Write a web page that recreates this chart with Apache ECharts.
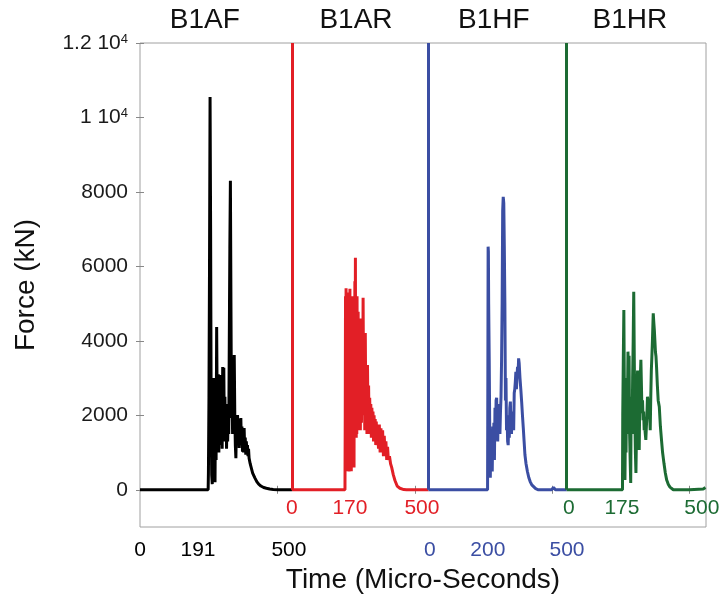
<!DOCTYPE html>
<html><head><meta charset="utf-8">
<script src="https://cdn.jsdelivr.net/npm/echarts@6/dist/echarts.min.js"></script>
<style>html,body{margin:0;padding:0;background:#fff}#c{width:721px;height:596px}</style>
</head><body><div id="c"></div>
<script>
// ---- data (time in plot units along the shared axis, force in kN) ----
const blackTime=[0,248,249,251,253,255,257,259,261,263,265,267,269,271,273,275,277,279,281,283,285,287,289,291,293,295,297,299,301,303,305,307,309,311,313,315,317,319,321,323,325,327,329,331,333,335,337,339,341,343,345,347,349,351,353,355,357,359,361,363,365,367,369,371,373,375,377,379,381,383,385,387,389,391,393,395,397,399,401,405,410,418,425,432,440,450,460,472,485,503,553];
const blackForce=[0,0,450,2500,6000,10550,7000,2000,400,150,1500,700,3000,1000,200,2500,800,4370,2200,1200,3100,1000,2600,1200,3080,1500,2500,1100,3300,1800,3280,1300,2500,1470,2300,1100,2200,1300,2000,1500,4000,6500,8300,5000,1930,2600,1500,3000,1700,3620,2000,1200,850,1700,1200,2010,1500,1900,1120,1700,1300,1930,1200,1700,1020,1500,1000,1660,1100,1400,940,1300,1000,1200,900,1100,850,900,700,590,450,320,220,150,100,60,40,20,10,0,0];

const redTime=[553,746,747,748,749,750,751,752,753,754,755,756,757,758,759,760,761,762,763,764,765,766,767,768,769,770,771,772,773,774,775,776,777,778,779,780,781,782,783,784,785,786,787,788,789,790,791,792,793,794,795,796,797,798,799,800,802,804,806,808,810,812,814,816,818,820,822,824,826,828,830,832,834,836,838,840,842,844,846,848,850,852,854,856,858,860,862,865,868,871,874,877,880,883,886,889,892,895,898,901,904,908,912,916,922,928,936,946,960,970,1050];
const redForce=[0,0,2000,5200,600,5410,800,4900,500,5300,700,4500,1200,5100,600,4200,490,4800,900,5400,600,5000,1000,4600,500,4700,1500,5200,800,4400,1600,4800,700,4300,600,5000,1500,5600,2000,6230,1800,4900,1400,4500,1500,5200,1700,4300,1800,4780,1600,4100,1700,4400,1900,4000,1600,4600,1800,4300,2000,5160,2200,4000,1600,4210,1800,3200,1500,3350,1700,2800,1500,2470,1600,2300,1400,2200,1500,2100,1300,2000,1300,1900,1200,1830,1200,1700,1100,1750,1000,1650,1000,1600,900,1450,900,1300,800,1150,800,900,700,600,400,250,100,40,5,0,0];

const blueTime=[1050,1265,1266,1267,1268,1269,1271,1273,1275,1277,1278,1280,1282,1284,1286,1288,1290,1292,1294,1296,1298,1300,1302,1304,1306,1308,1310,1312,1314,1316,1318,1320,1322,1324,1326,1328,1330,1332,1334,1336,1338,1340,1342,1344,1346,1348,1350,1352,1354,1356,1358,1360,1362,1364,1366,1368,1370,1372,1374,1376,1378,1380,1383,1386,1389,1392,1395,1398,1401,1405,1410,1415,1420,1426,1432,1440,1450,1498,1505,1512,1553];
const blueForce=[0,0,3000,6530,6400,5000,3500,1500,320,1500,700,1300,490,1700,900,1800,800,2200,1400,2400,2470,1700,1300,2200,1600,2300,1500,2100,2500,3500,5000,7500,7870,7700,6500,5000,2400,3000,1600,2000,1300,1200,1800,1400,2200,2370,1700,1500,1900,1740,2100,1600,2600,2700,2900,3170,2700,3000,3300,3100,3530,3400,3000,2700,2370,2000,1660,1300,940,700,490,330,220,130,80,30,0,0,60,0,0];

const greenTime=[1553,1756,1757,1759,1761,1763,1765,1767,1769,1771,1773,1776,1778,1780,1782,1784,1786,1787,1789,1791,1793,1795,1797,1799,1801,1803,1805,1807,1809,1811,1813,1815,1817,1819,1821,1823,1825,1827,1829,1831,1833,1835,1837,1839,1841,1843,1845,1847,1849,1851,1853,1855,1857,1859,1861,1863,1865,1867,1868,1870,1872,1874,1876,1878,1880,1883,1886,1890,1894,1898,1902,1907,1912,1917,1923,1929,1935,1941,2000,2050,2058];
const greenForce=[0,0,2000,3500,4830,2500,260,2000,1000,3000,1500,3710,2500,3600,1500,800,180,1500,2500,1500,3000,4000,5320,3500,2000,1000,450,1500,2800,3200,2500,1800,1070,2500,3000,3490,2800,2060,2400,1870,2100,1600,1700,1500,1340,1700,2000,2500,2450,2550,2500,2000,1600,2500,3200,3580,4000,4500,4740,4500,4290,4000,3700,3580,3300,2800,2400,2230,1700,1340,1000,710,450,260,140,70,30,0,0,20,60];

// ---- tick labels ----
const yTickValues=[0,2000,4000,6000,8000,10000,12000];
const yTickLabels=['0','2000','4000','6000','8000','1 10{sup|4}','1.2 10{sup|4}'];
const frameTickValues=[500,1000,1500,2000];
const panelTitles=['B1AF','B1AR','B1HF','B1HR'];
const panelTitlePos=[236,786,1288,1783];
const outerTickText=['0','191','500','0','200','500'];
const outerTickPos=[0,211,542,1055,1266,1554];
const outerTickPanel=['k','k','k','b','b','b'];
const innerTickText=['0','170','500','0','175','500'];
const innerTickPos=[553,764,1026,1561,1754,2045];
const innerTickPanel=['r','r','r','g','g','g'];

const COL={k:'#000000',r:'#e21f26',b:'#3b4ea3',g:'#1c6b33'};
const FONT='Liberation Sans, Arial, sans-serif';
const X_MIN=0,X_MAX=2060,Y_MIN=-1000,Y_MAX=12000;

const zip=(a,b)=>a.map((t,i)=>[t,b[i]]);
const richCols={};
Object.keys(COL).forEach(k=>richCols[k]={color:COL[k],fontSize:21,fontFamily:FONT});

function mkSeries(name,time,force,color,withMark){
  const s={name,type:'line',xAxisIndex:0,yAxisIndex:0,data:zip(time,force),showSymbol:false,symbol:'none',
    lineStyle:{color,width:3},itemStyle:{color},animation:false};
  if(withMark){
    s.markLine={symbol:'none',silent:true,animation:false,label:{show:false},
      lineStyle:{color,width:3,type:'solid'},
      data:[[{coord:[time[0],0]},{coord:[time[0],Y_MAX]}]]};
  }
  return s;
}

const chart=echarts.init(document.getElementById('c'),null,{renderer:'canvas'});
const gridBox={left:140,top:43,width:566,height:484,outerBoundsMode:'none',containLabel:false};
chart.setOption({
  animation:false,
  backgroundColor:'#ffffff',
  grid:[Object.assign({show:true,borderColor:'#a0a0a0',borderWidth:1,backgroundColor:'transparent'},gridBox),
        Object.assign({show:false},gridBox)],
  xAxis:[
    {type:'value',gridIndex:0,position:'bottom',min:X_MIN,max:X_MAX,
     axisLine:{show:false},splitLine:{show:false},
     axisTick:{show:true,inside:true,length:4,customValues:frameTickValues,lineStyle:{color:'#888'}},
     axisLabel:{customValues:outerTickPos,margin:13,fontSize:21,fontFamily:FONT,rich:richCols,
       formatter:(v)=>{const i=outerTickPos.indexOf(v);return i<0?'':'{'+outerTickPanel[i]+'|'+outerTickText[i]+'}';}},
     name:'Time (Micro-Seconds)',nameLocation:'middle',nameGap:36,
     nameTextStyle:{fontSize:28,fontFamily:FONT,color:'#111'}},
    {type:'value',gridIndex:0,position:'top',min:X_MIN,max:X_MAX,
     axisLine:{show:false},splitLine:{show:false},
     axisTick:{show:true,inside:true,length:4,customValues:frameTickValues,lineStyle:{color:'#888'}},
     axisLabel:{customValues:panelTitlePos,margin:9,fontSize:28,fontFamily:FONT,color:'#111',
       formatter:(v)=>{const i=panelTitlePos.indexOf(v);return i<0?'':panelTitles[i];}}},
    {type:'value',gridIndex:1,position:'bottom',min:X_MIN,max:X_MAX,
     axisLine:{show:false},splitLine:{show:false},axisTick:{show:false},
     axisLabel:{inside:true,customValues:innerTickPos,margin:8,fontSize:21,fontFamily:FONT,rich:richCols,
       formatter:(v)=>{const i=innerTickPos.indexOf(v);return i<0?'':'{'+innerTickPanel[i]+'|'+innerTickText[i]+'}';}}}
  ],
  yAxis:[
    {type:'value',gridIndex:0,position:'left',min:Y_MIN,max:Y_MAX,
     axisLine:{show:false},splitLine:{show:false},
     axisTick:{show:true,inside:true,length:4,customValues:yTickValues,lineStyle:{color:'#888'}},
     axisLabel:{customValues:yTickValues,margin:12,fontSize:21,fontFamily:FONT,color:'#1a1a1a',
       rich:{sup:{fontSize:13,fontFamily:FONT,color:'#1a1a1a',verticalAlign:'top',lineHeight:14}},
       formatter:(v)=>{const i=yTickValues.indexOf(v);return i<0?'':yTickLabels[i];}},
     name:'Force (kN)',nameLocation:'middle',nameRotate:90,nameGap:100,
     nameTextStyle:{fontSize:28,fontFamily:FONT,color:'#111'}},
    {type:'value',gridIndex:0,position:'right',min:Y_MIN,max:Y_MAX,
     axisLine:{show:false},splitLine:{show:false},axisLabel:{show:false},
     axisTick:{show:true,inside:true,length:4,customValues:yTickValues,lineStyle:{color:'#888'}}},
    {type:'value',gridIndex:1,min:Y_MIN,max:Y_MAX,show:false}
  ],
  series:[
    mkSeries('B1AF',blackTime,blackForce,COL.k,false),
    mkSeries('B1AR',redTime,redForce,COL.r,true),
    mkSeries('B1HF',blueTime,blueForce,COL.b,true),
    mkSeries('B1HR',greenTime,greenForce,COL.g,true)
  ]
});
</script>
</body></html>
